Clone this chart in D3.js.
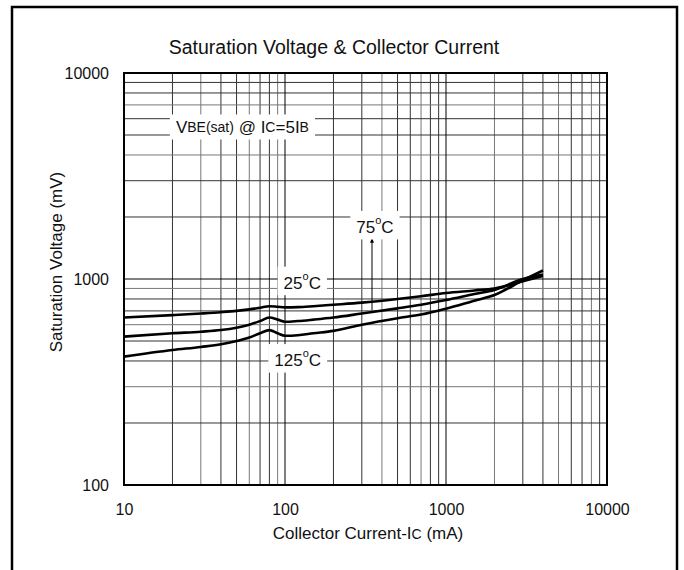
<!DOCTYPE html>
<html lang="en">
<head>
<meta charset="UTF-8">
<title>Saturation Voltage & Collector Current</title>
<script src="https://d3js.org/d3.v7.min.js"></script>
<style>
  body { margin: 0; background: #fff; }
  text { font-family: "Liberation Sans", Arial, sans-serif; fill: #111; }
  .grid line { stroke: #333; stroke-width: 1; }
  .curve { fill: none; stroke: #000; stroke-width: 2.6; stroke-linejoin: round; }
</style>
</head>
<body>
<svg width="684" height="570"></svg>
<script>
// collector current (mA)
const current = [10, 20, 30, 40, 50, 60, 70, 80, 90, 100, 120, 150, 200, 300, 500, 700, 1000, 1500, 2000, 3000, 4000];
// saturation voltage (mV) per temperature
const v25  = [650, 668, 680, 690, 700, 712, 725, 738, 733, 728, 730, 738, 750, 768, 800, 825, 855, 880, 900, 975, 1035];
const v75  = [525, 545, 555, 565, 580, 600, 625, 650, 635, 620, 625, 635, 650, 680, 720, 750, 790, 845, 885, 1000, 1050];
const v125 = [420, 452, 468, 482, 500, 520, 545, 565, 545, 530, 533, 545, 560, 600, 645, 672, 718, 785, 836, 985, 1100];

const xTicks = [10, 100, 1000, 10000];
const yTicks = [100, 1000, 10000];

const margin = {top: 73, right: 77, bottom: 85, left: 124};
const width = 684 - margin.left - margin.right;
const height = 570 - margin.top - margin.bottom;

const svg = d3.select("svg");

// outer frame
svg.append("rect")
    .attr("x", 12).attr("y", 7)
    .attr("width", 665).attr("height", 575)
    .attr("fill", "none").attr("stroke", "#000").attr("stroke-width", 2.5);

svg.append("text")
    .attr("x", 334).attr("y", 54)
    .attr("text-anchor", "middle")
    .style("font-size", "19.5px")
    .text("Saturation Voltage & Collector Current");

const g = svg.append("g")
    .attr("transform", "translate(" + margin.left + "," + margin.top + ")");

const x = d3.scaleLog().domain([10, 10000]).range([0, width]);
const y = d3.scaleLog().domain([100, 10000]).range([height, 0]);

// log grid lines
const xGrid = [];
for (let d = 10; d < 10000; d *= 10) for (let k = 2; k <= 9; k++) xGrid.push(d * k);
const yGrid = [];
for (let d = 100; d < 10000; d *= 10) for (let k = 2; k <= 9; k++) yGrid.push(d * k);

const grid = g.append("g").attr("class", "grid");
grid.selectAll(".vx").data(xGrid).enter().append("line")
    .attr("x1", d => x(d)).attr("x2", d => x(d))
    .attr("y1", 0).attr("y2", height)
    .style("stroke", (d, i) => i % 3 === 1 ? "#777" : "#333");
grid.selectAll(".hy").data(yGrid).enter().append("line")
    .attr("y1", d => y(d)).attr("y2", d => y(d))
    .attr("x1", 0).attr("x2", width)
    .style("stroke", (d, i) => i % 3 === 1 ? "#777" : "#333");
grid.selectAll(".vm").data([100, 1000]).enter().append("line")
    .attr("x1", d => x(d)).attr("x2", d => x(d))
    .attr("y1", 0).attr("y2", height).style("stroke", "#000");
grid.selectAll(".hm").data([1000]).enter().append("line")
    .attr("y1", d => y(d)).attr("y2", d => y(d))
    .attr("x1", 0).attr("x2", width).style("stroke", "#000");

g.append("rect")
    .attr("width", width).attr("height", height)
    .attr("fill", "none").attr("stroke", "#000").attr("stroke-width", 2);

// axes (labels only)
const xAxis = g.append("g")
    .attr("transform", "translate(0," + height + ")")
    .call(d3.axisBottom(x).tickValues(xTicks).tickFormat(d3.format("d")).tickSize(0).tickPadding(19));
const yAxis = g.append("g")
    .call(d3.axisLeft(y).tickValues(yTicks).tickFormat(d3.format("d")).tickSize(0).tickPadding(15));
[xAxis, yAxis].forEach(a => {
    a.select(".domain").remove();
    a.selectAll("text").style("font-size", "16px").style("font-family", "Liberation Sans, Arial, sans-serif").attr("fill", "#111");
});

// curves
const line = d3.line().x(d => x(d[0])).y(d => y(d[1])).curve(d3.curveMonotoneX);
[v25, v75, v125].forEach(s => {
    g.append("path")
        .attr("class", "curve")
        .attr("d", line(current.map((c, i) => [c, s[i]])));
});

// arrow for 75°C
g.append("defs").append("marker")
    .attr("id", "arr").attr("viewBox", "0 0 10 10")
    .attr("refX", 5).attr("refY", 5)
    .attr("markerWidth", 5).attr("markerHeight", 6).attr("orient", "auto")
    .append("path").attr("d", "M0,1 L10,5 L0,9 Z").attr("fill", "#000");
g.append("line")
    .attr("x1", x(347)).attr("x2", x(347))
    .attr("y1", y(707)).attr("y2", y(1540))
    .attr("stroke", "#000").attr("stroke-width", 1)
    .attr("marker-end", "url(#arr)");

// labels with white boxes
function boxed(tx, ty, parts, anchor) {
    const lg = g.append("g");
    const bg = lg.append("rect").attr("fill", "#fff");
    const t = lg.append("text")
        .attr("x", x(tx)).attr("y", y(ty))
        .attr("text-anchor", anchor)
        .attr("dominant-baseline", "central");
    parts.forEach(p => {
        const s = t.append("tspan").text(p[0]).style("font-size", p[1] + "px");
        if (p[2]) s.attr("dy", p[2]);
    });
    const b = t.node().getBBox();
    bg.attr("x", b.x - 6).attr("y", b.y - 3).attr("width", b.width + 12).attr("height", b.height + 6);
}

boxed(21, 5470, [["V", 17], ["BE(sat)", 14], [" @ ", 17], ["I", 17], ["C", 14], ["=5", 17], ["I", 17], ["B", 14]], "start");
boxed(128, 960, [["25", 17], ["o", 11, -7], ["C", 17, 7]], "middle");
boxed(362, 1790, [["75", 17], ["o", 11, -7], ["C", 17, 7]], "middle");
boxed(120, 404, [["125", 17], ["o", 11, -7], ["C", 17, 7]], "middle");

// axis titles
const xt = svg.append("text")
    .attr("x", 368).attr("y", 539)
    .attr("text-anchor", "middle")
    .style("font-size", "17px");
xt.append("tspan").text("Collector Current-I");
xt.append("tspan").text("C").style("font-size", "14px");
xt.append("tspan").text(" (mA)");

svg.append("text")
    .attr("transform", "translate(62,262) rotate(-90)")
    .attr("text-anchor", "middle")
    .style("font-size", "17px")
    .text("Saturation Voltage (mV)");
</script>
</body>
</html>
